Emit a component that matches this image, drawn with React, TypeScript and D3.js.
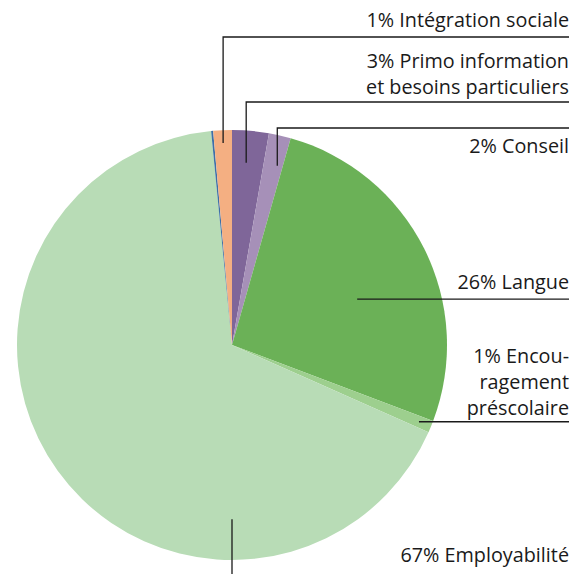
import * as d3 from "d3";

// slice values, clockwise from 12 o'clock
const categories = [
  "Primo information et besoins particuliers",
  "Conseil",
  "Langue",
  "Encouragement préscolaire",
  "Employabilité",
  "Autre",
  "Intégration sociale",
];
const values = [2.75, 1.65, 26.35, 0.9, 66.8, 0.15, 1.4];
const colors = ["#7f6699", "#a690b8", "#6bb157", "#9dcf8e", "#b8dcb6", "#3d6fa6", "#f4af82"];

// label text lines (empty = no label)
const labelLines: string[][] = [
  ["3% Primo information", "et besoins particuliers"],
  ["2% Conseil"],
  ["26% Langue"],
  ["1% Encou-", "ragement", "préscolaire"],
  ["67% Employabilité"],
  [],
  ["1% Intégration sociale"],
];

const W = 579;
const H = 574;
const cx = 232;
const cy = 345;
const R = 215;
const right = 569;
const fontSize = 19.8;
const lineH = 26;

type Lab = { i: number; kind: "vert" | "horiz" | "down"; angleAt: number; r: number; lineY: number; textY: number };
// where the leader starts in the slice (fraction of slice angle, fraction of radius) and where text sits
const labelLayout: Lab[] = [
  { i: 6, kind: "vert", angleAt: 0.5, r: 0.94, lineY: 37, textY: 27 },
  { i: 0, kind: "vert", angleAt: 0.45, r: 0.85, lineY: 102, textY: 68 },
  { i: 1, kind: "vert", angleAt: 0.72, r: 0.86, lineY: 128, textY: 153 },
  { i: 2, kind: "horiz", angleAt: 0.57, r: 0.62, lineY: 0, textY: 289 },
  { i: 3, kind: "horiz", angleAt: 0.5, r: 0.94, lineY: 0, textY: 363 },
  { i: 4, kind: "down", angleAt: 0, r: 0.81, lineY: H, textY: 562 },
];

const polar = (a: number, r: number): [number, number] => [cx + r * Math.sin(a), cy - r * Math.cos(a)];

export default function App() {
  const pie = d3.pie<number>().sort(null).value((d) => d)(values);
  const arc = d3.arc<d3.PieArcDatum<number>>().innerRadius(0).outerRadius(R);

  return (
    <svg
      width={W}
      height={H}
      style={{ position: "absolute", left: 0, top: 0, display: "block" }}
      fontFamily="'Open Sans', 'Noto Sans', sans-serif"
    >
      <rect width={W} height={H} fill="#fff" />
      <g transform={`translate(${cx},${cy})`}>
        {pie.map((p, i) => (
          <path key={i} d={arc(p) ?? ""} fill={colors[i]} />
        ))}
      </g>
      {labelLayout.map((l) => {
        const p = pie[l.i];
        const lines = labelLines[l.i];
        let a = p.startAngle + (p.endAngle - p.startAngle) * l.angleAt;
        if (l.kind === "down") a = Math.PI;
        const [px, py] = polar(a, R * l.r);
        let pathD = "";
        if (l.kind === "vert") pathD = `M${px},${py}V${l.lineY}H${right}`;
        else if (l.kind === "horiz") pathD = `M${px},${py}H${right}`;
        else pathD = `M${px},${py}V${l.lineY}`;
        return (
          <g key={l.i}>
            <path d={pathD} fill="none" stroke="#1a1a1a" strokeWidth={1.3} />
            {lines.map((t, k) => (
              <text
                key={k}
                x={right}
                y={l.textY + k * lineH}
                textAnchor="end"
                fontSize={fontSize}
                fill="#1a1a1a"
              >
                {t}
              </text>
            ))}
          </g>
        );
      })}
    </svg>
  );
}
